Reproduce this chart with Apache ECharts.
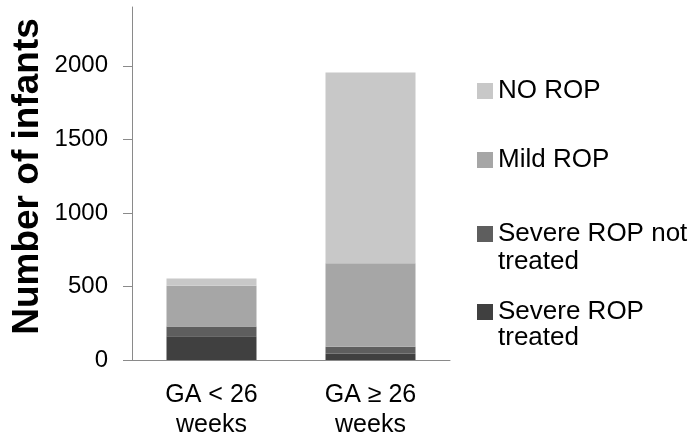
<!DOCTYPE html>
<html>
<head>
<meta charset="utf-8">
<script src="https://cdn.jsdelivr.net/npm/echarts@6/dist/echarts.min.js"></script>
<style>html,body{margin:0;padding:0;background:#fff;}#c{width:697px;height:440px;}</style>
</head>
<body>
<div id="c"></div>
<script>
var categories = ['GA < 26\nweeks', 'GA \u2265 26\nweeks'];
var severeTreated = [161, 43];
var severeNotTreated = [67, 47];
var mildROP = [276, 568];
var noROP = [50, 1297];
var yTicks = [0, 500, 1000, 1500, 2000];

var FONT = '"Liberation Sans", Arial, sans-serif';
var axisColor = '#8a8a8a';

var chart = echarts.init(document.getElementById('c'));

function legendItem(name, top, label) {
  return {
    show: true,
    data: [name],
    left: 477,
    top: top,
    orient: 'vertical',
    icon: 'rect',
    itemWidth: 16,
    itemHeight: 16,
    padding: 0,
    selectedMode: false,
    formatter: function () { return label; },
    textStyle: { fontFamily: FONT, fontSize: 26, color: '#000', lineHeight: 30 }
  };
}

chart.setOption({
  animation: false,
  backgroundColor: '#fff',
  grid: { left: 132, right: 247, top: 7, bottom: 79, containLabel: false },
  legend: [
    legendItem('NO ROP', 76, 'NO ROP'),
    legendItem('Mild ROP', 145, 'Mild ROP'),
    legendItem('Severe ROP not treated', 219, 'Severe ROP not'),
    legendItem('Severe ROP treated', 297, 'Severe ROP')
  ],
  graphic: [
    { type: 'text', left: 498, top: 249, style: { text: 'treated', font: '26px ' + FONT, fill: '#000' } },
    { type: 'text', left: 498, top: 325, style: { text: 'treated', font: '26px ' + FONT, fill: '#000' } }
  ],
  xAxis: {
    type: 'category',
    data: categories,
    axisLine: { lineStyle: { color: axisColor, width: 1 } },
    axisTick: { show: false },
    axisLabel: { color: '#000', fontFamily: FONT, fontSize: 25, lineHeight: 30, margin: 20 }
  },
  yAxis: {
    type: 'value',
    min: 0,
    max: 2400,
    interval: 500,
    name: 'Number of infants',
    nameLocation: 'middle',
    nameGap: 86,
    nameTextStyle: { fontFamily: FONT, fontSize: 37, fontWeight: 'bold', color: '#000', padding: [0, 0, 0, 14] },
    axisLine: { show: true, lineStyle: { color: axisColor, width: 1 } },
    axisTick: { show: true, length: 9, lineStyle: { color: axisColor }, customValues: yTicks },
    axisLabel: { color: '#000', fontFamily: FONT, fontSize: 24, margin: 24, customValues: yTicks,
      formatter: function (v) { return String(v); } },
    splitLine: { show: false }
  },
  series: [
    { name: 'Severe ROP treated', type: 'bar', stack: 'a', data: severeTreated, barWidth: 90, itemStyle: { color: '#404040' } },
    { name: 'Severe ROP not treated', type: 'bar', stack: 'a', data: severeNotTreated, barWidth: 90, itemStyle: { color: '#5e5e5e' } },
    { name: 'Mild ROP', type: 'bar', stack: 'a', data: mildROP, barWidth: 90, itemStyle: { color: '#a6a6a6' } },
    { name: 'NO ROP', type: 'bar', stack: 'a', data: noROP, barWidth: 90, itemStyle: { color: '#c8c8c8' } }
  ]
});
</script>
</body>
</html>
